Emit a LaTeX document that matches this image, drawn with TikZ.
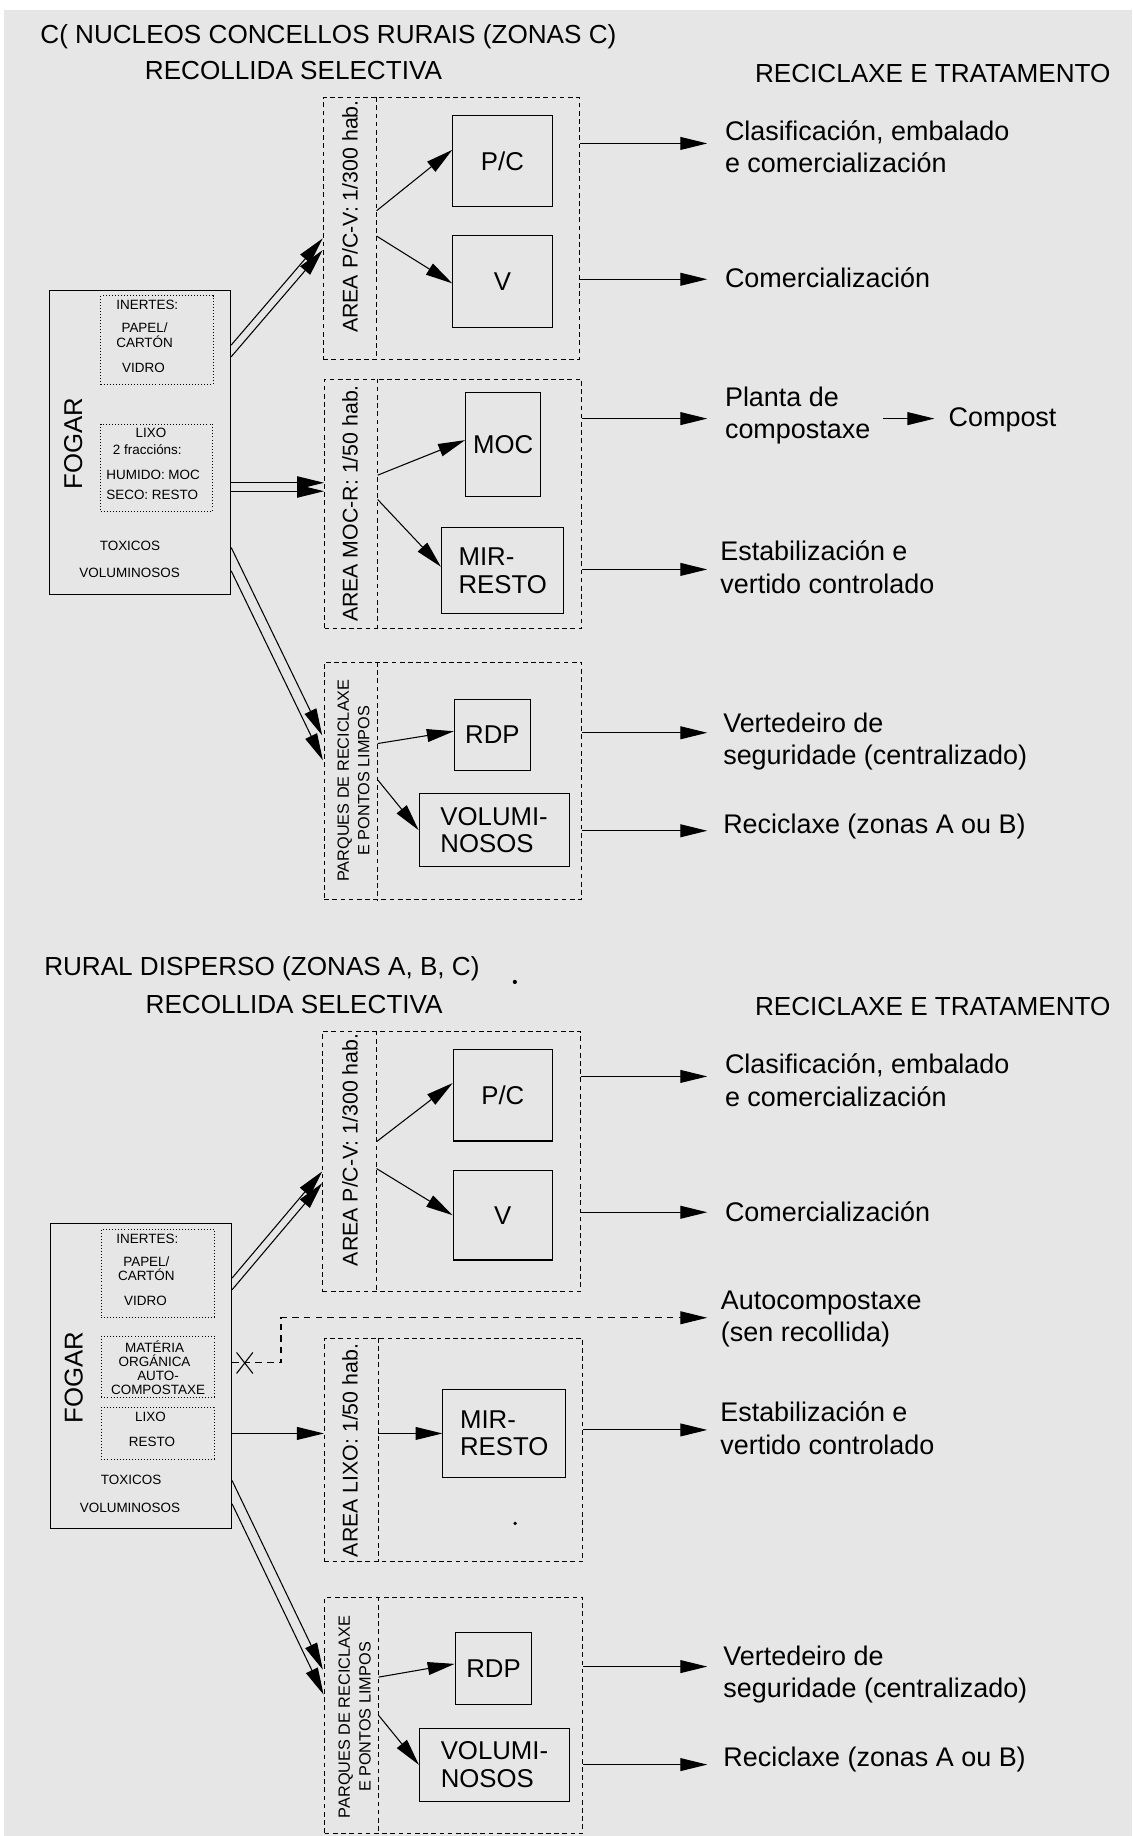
\documentclass[tikz,border=0pt]{standalone}
\usepackage{fontspec}
\setmainfont{Liberation Sans}
\usepackage{tikz}
\usetikzlibrary{arrows.meta, calc, shapes.misc}
\definecolor{fundo}{RGB}{230,230,230}

\tikzset{
  caixa/.style={draw, line width=0.9pt, inner sep=0pt, align=left,
    font=\fontsize{22}{23.5}\selectfont},
  pontos/.style={draw, line width=0.7pt, dash pattern=on 0.7pt off 1.9pt, inner sep=0pt},
  area/.style={draw, line width=0.9pt, dash pattern=on 4pt off 3pt, inner sep=0pt},
  divisoria/.style={line width=0.9pt, dash pattern=on 4pt off 3pt},
  seta/.style={line width=0.9pt, -{Triangle[length=23pt,width=11pt]}},
  tracexada/.style={seta, dash pattern=on 5.5pt off 4.5pt},
  cabeza/.style={anchor=base west, inner sep=0pt, font=\fontsize{22.3}{24}\selectfont},
  destino/.style={anchor=west, inner sep=0pt, align=left, font=\fontsize{23}{27.5}\selectfont},
  rotulo/.style={rotate=90, inner sep=0pt, font=\fontsize{18.2}{20}\selectfont},
  rotulomini/.style={rotate=90, inner sep=0pt, align=center, font=\fontsize{13.9}{17.6}\selectfont},
  fogar/.style={rotate=90, inner sep=0pt, font=\fontsize{22}{24}\selectfont},
  miudo/.style={inner sep=0pt, align=center, font=\fontsize{11.5}{12.5}\selectfont}
}

\begin{document}
\begin{tikzpicture}[x=1pt, y=-1pt]
  % fondo
  \fill[white] (0,0) rectangle (967,1568);
  \fill[fundo] (3.3,8.5) rectangle (967,1568);
  \useasboundingbox (0,0) rectangle (967,1568);

  % Primeira parte: nucleos rurais
  \node[cabeza] (titA) at (34.3,37) {C( NUCLEOS CONCELLOS RURAIS (ZONAS C)};
  \node[cabeza] (recA) at (123.6,68.3) {RECOLLIDA SELECTIVA};
  \node[cabeza] (traA) at (644.6,70.3) {RECICLAXE E TRATAMENTO};

  \node[caixa, minimum width=155pt, minimum height=260pt] (fogarA) at (119.5,378) {};
  \node[fogar] (nomeA) at (62.5,378.7) {FOGAR};
  \node[pontos, minimum width=96pt, minimum height=75.7pt] (inertesA) at (134,290.5) {};
  \node[miudo] (iA1) at (125.8,260.6) {INERTES:};
  \node[miudo] (iA2) at (123.5,286.2) {PAPEL/\\CARTÓN};
  \node[miudo] (iA3) at (122.6,314) {VIDRO};
  \node[pontos, minimum width=95.5pt, minimum height=74.3pt] (lixoA) at (133.7,399.4) {};
  \node[miudo] (lA1) at (129,370) {LIXO};
  \node[miudo] (lA2) at (125.8,383.6) {2 fraccións:};
  \node[miudo] (lA3) at (130.8,405.8) {HUMIDO: MOC};
  \node[miudo] (lA4) at (130,422.9) {SECO: RESTO};
  \node[miudo] (tA1) at (111,466.5) {TOXICOS};
  \node[miudo] (tA2) at (110.7,489.6) {VOLUMINOSOS};

  % area P/C-V
  \node[area, minimum width=218.7pt, minimum height=223.6pt] (areaA) at (385.4,195.2) {};
  \draw[divisoria] ($(areaA.north west)+(46,0)$) -- ($(areaA.south west)+(46,0)$);
  \node[rotulo] (rotA) at (299,185) {AREA P/C-V: 1/300 hab.};
  \node[caixa, minimum width=84.8pt, minimum height=77.6pt] (pcA) at (429.1,137.8) {P/C};
  \node[caixa, minimum width=84.8pt, minimum height=78pt] (vA) at (429.1,240.5) {V};
  \draw[seta] ($(areaA.west)+(46,-15.2)$) -- ($(pcA.west)+(0,-9.8)$);
  \draw[seta] ($(areaA.west)+(46,6.4)$) -- ($(vA.west)+(0,1.5)$);

  % area MOC-R
  \node[area, minimum width=219.8pt, minimum height=212.8pt] (areaB) at (387.1,430.2) {};
  \draw[divisoria] ($(areaB.north west)+(45.8,0)$) -- ($(areaB.south west)+(45.8,0)$);
  \node[rotulo] (rotB) at (299,430) {AREA MOC-R: 1/50 hab.};
  \node[caixa, minimum width=64.4pt, minimum height=88.3pt] (mocA) at (429.8,379.6) {MOC};
  \node[caixa, minimum width=104.6pt, minimum height=73.2pt] (mirA) at (429.3,487.4) {MIR-\\RESTO};
  \draw[seta] ($(areaB.west)+(45.8,-24.4)$) -- ($(mocA.west)+(0,-3.7)$);
  \draw[seta] ($(areaB.west)+(45.8,-3.6)$) -- ($(mirA.west)+(0,-3.4)$);

  % parques de reciclaxe
  \node[area, minimum width=220.2pt, minimum height=202.3pt] (areaC) at (386.9,666.9) {};
  \draw[divisoria] ($(areaC.north west)+(46.2,0)$) -- ($(areaC.south west)+(46.2,0)$);
  \node[rotulomini] (rotC) at (301.9,666.6) {PARQUES DE RECICLAXE\\E PONTOS LIMPOS};
  \node[caixa, minimum width=65pt, minimum height=61pt] (rdpA) at (420.5,627.5) {RDP};
  \node[caixa, minimum width=128pt, minimum height=62pt] (volA) at (422,709) {VOLUMI-\\NOSOS};
  \draw[seta] ($(areaC.west)+(46.2,-31.9)$) -- ($(rdpA.west)+(0,-3)$);
  \draw[seta] ($(areaC.west)+(46.2,-0.9)$) -- (volA.west);

  % fogar -> areas
  \draw[seta] ($(fogarA.east)+(0,-83.3)$) -- ($(areaA.west)+(0,8.4)$);
  \draw[seta] ($(fogarA.east)+(0,-73.3)$) -- ($(areaA.west)+(0,18.4)$);
  \draw[seta] ($(fogarA.east)+(0,34.3)$) -- ($(areaB.west)+(0,-17.9)$);
  \draw[seta] ($(fogarA.east)+(0,41.5)$) -- ($(areaB.west)+(0,-10.7)$);
  \draw[seta] ($(fogarA.east)+(0,89.6)$) -- ($(areaC.west)+(-1.2,-38.9)$);
  \draw[seta] ($(fogarA.east)+(0,109.5)$) -- ($(areaC.west)+(-0.6,-17.6)$);

  % reciclaxe e tratamento
  \coordinate (oA1) at (604,122.5);
  \coordinate (oA2) at (604,238.5);
  \coordinate (oA3) at (604,357.5);
  \coordinate (oA4) at (798,357.5);
  \coordinate (oA5) at (604,486.3);
  \coordinate (oA6) at (604,625.8);
  \coordinate (oA7) at (604,709.5);
  \node[destino] (dA1) at (619,125.6) {Clasificación, embalado\\e comercialización};
  \node[destino] (dA2) at (619,237.5) {Comercialización};
  \node[destino] (dA3) at (619,355) {Planta de\\compostaxe};
  \node[destino] (dA4) at (810,358.5) {Compost};
  \node[destino] (dA5) at (615,484.5) {Estabilización e\\vertido controlado};
  \node[destino] (dA6) at (617.5,633) {Vertedeiro de\\seguridade (centralizado)};
  \node[destino] (dA7) at (617.5,705.6) {Reciclaxe (zonas A ou B)};
  \draw[seta] (areaA.east |- oA1) -- (oA1);
  \draw[seta] (areaA.east |- oA2) -- (oA2);
  \draw[seta] (areaB.east |- oA3) -- (oA3);
  \draw[seta] ($(dA3.east |- oA4)+(11,0)$) -- (oA4);
  \draw[seta] (areaB.east |- oA5) -- (oA5);
  \draw[seta] (areaC.east |- oA6) -- (oA6);
  \draw[seta] (areaC.east |- oA7) -- (oA7);

  % Segunda parte: rural disperso
  \node[cabeza] (titB) at (37.6,833) {RURAL DISPERSO (ZONAS A, B, C)};
  \node[cabeza] (recB) at (124.2,865.7) {RECOLLIDA SELECTIVA};
  \node[cabeza] (traB) at (644.6,867) {RECICLAXE E TRATAMENTO};
  \fill (439.7,838.6) circle (1.8pt);

  \node[caixa, minimum width=154.3pt, minimum height=260.5pt] (fogarB) at (120.6,1174.8) {};
  \node[fogar] (nomeB) at (63,1176.3) {FOGAR};
  \node[pontos, minimum width=96.4pt, minimum height=74.8pt] (inertesB) at (134.6,1087.4) {};
  \node[miudo] (iB1) at (125.9,1057.9) {INERTES:};
  \node[miudo] (iB2) at (125,1083.5) {PAPEL/\\CARTÓN};
  \node[miudo] (iB3) at (124.2,1111) {VIDRO};
  \node[pontos, minimum width=96.4pt, minimum height=52pt] (materiaB) at (134.8,1167) {};
  \node[miudo] (mB1) at (132,1156) {MATÉRIA\\ORGÁNICA};
  \node[miudo] (mB2) at (135,1181) {AUTO-\\COMPOSTAXE};
  \node[pontos, minimum width=96.4pt, minimum height=44pt] (lixoB) at (134.8,1224) {};
  \node[miudo] (lB1) at (128.5,1210) {LIXO};
  \node[miudo] (lB2) at (129.8,1231.6) {RESTO};
  \node[miudo] (tB1) at (112,1263.5) {TOXICOS};
  \node[miudo] (tB2) at (111,1287.5) {VOLUMINOSOS};

  % area P/C-V
  \node[area, minimum width=219.9pt, minimum height=222.5pt] (areaD) at (385.6,992) {};
  \draw[divisoria] ($(areaD.north west)+(46.4,0)$) -- ($(areaD.south west)+(46.4,0)$);
  \node[rotulo] (rotD) at (299,982) {AREA P/C-V: 1/300 hab.};
  \node[caixa, minimum width=84.8pt, minimum height=78.5pt] (pcB) at (429.4,935.2) {P/C};
  \node[caixa, minimum width=84.8pt, minimum height=76.5pt] (vB) at (429.4,1037.8) {V};
  \draw[seta] ($(areaD.west)+(46.4,-17)$) -- ($(pcB.west)+(0,-10.2)$);
  \draw[seta] ($(areaD.west)+(46.4,6)$) -- (vB.west);

  % area lixo
  \node[area, minimum width=220.7pt, minimum height=190.5pt] (areaE) at (387.4,1238.3) {};
  \draw[divisoria] ($(areaE.north west)+(46.3,0)$) -- ($(areaE.south west)+(46.3,0)$);
  \node[rotulo] (rotE) at (299,1238.8) {AREA LIXO: 1/50 hab.};
  \node[caixa, minimum width=104.6pt, minimum height=74.6pt] (mirB) at (430.6,1224.2) {MIR-\\RESTO};
  \draw[seta] ($(areaE.west)+(46.3,-14.1)$) -- (mirB.west);
  \fill (440,1301) circle (1.6pt);

  % parques de reciclaxe
  \node[area, minimum width=220.5pt, minimum height=201.6pt] (areaF) at (387.6,1464.8) {};
  \draw[divisoria] ($(areaF.north west)+(46.5,0)$) -- ($(areaF.south west)+(46.5,0)$);
  \node[rotulomini] (rotF) at (302.9,1466.4) {PARQUES DE RECICLAXE\\E PONTOS LIMPOS};
  \node[caixa, minimum width=65.5pt, minimum height=61.8pt] (rdpB) at (421.5,1425.1) {RDP};
  \node[caixa, minimum width=128.2pt, minimum height=62.3pt] (volB) at (422.3,1507.2) {VOLUMI-\\NOSOS};
  \draw[seta] ($(areaF.west)+(46.5,-32.5)$) -- ($(rdpB.west)+(0,-4.1)$);
  \draw[seta] ($(areaF.west)+(46.5,0.2)$) -- (volB.west);

  % fogar -> areas
  \draw[seta] ($(fogarB.east)+(0,-83.3)$) -- ($(areaD.west)+(0,8.4)$);
  \draw[seta] ($(fogarB.east)+(0,-73.3)$) -- ($(areaD.west)+(0,18.4)$);
  \draw[seta] (fogarB.east |- mirB) -- (areaE.west |- mirB);
  \draw[seta] ($(fogarB.east)+(0,89.6)$) -- ($(areaF.west)+(-1.2,-38.9)$);
  \draw[seta] ($(fogarB.east)+(0,109.5)$) -- ($(areaF.west)+(-0.6,-17.6)$);

  % autocompostaxe
  \node[draw, cross out, line width=0.9pt, minimum width=13pt, minimum height=17pt, inner sep=0pt] (xB) at (209,1164) {};
  \coordinate (kB) at (240,1125.4);
  \coordinate (oB3) at (604,1125.4);
  \draw[tracexada] (fogarB.east |- xB) -| (kB) -- (oB3);

  % reciclaxe e tratamento
  \coordinate (oB1) at (604,919.3);
  \coordinate (oB2) at (604,1035.3);
  \coordinate (oB4) at (604,1221.2);
  \coordinate (oB5) at (604,1423.3);
  \coordinate (oB6) at (604,1507);
  \node[destino] (dB1) at (619,922.6) {Clasificación, embalado\\e comercialización};
  \node[destino] (dB2) at (619,1034.5) {Comercialización};
  \node[destino] (dB3) at (615.5,1126.5) {Autocompostaxe\\(sen recollida)};
  \node[destino] (dB4) at (615,1219.8) {Estabilización e\\vertido controlado};
  \node[destino] (dB5) at (617.6,1430.4) {Vertedeiro de\\seguridade (centralizado)};
  \node[destino] (dB6) at (617.6,1502.6) {Reciclaxe (zonas A ou B)};
  \draw[seta] (areaD.east |- oB1) -- (oB1);
  \draw[seta] (areaD.east |- oB2) -- (oB2);
  \draw[seta] (areaE.east |- oB4) -- (oB4);
  \draw[seta] (areaF.east |- oB5) -- (oB5);
  \draw[seta] (areaF.east |- oB6) -- (oB6);
\end{tikzpicture}
\end{document}
